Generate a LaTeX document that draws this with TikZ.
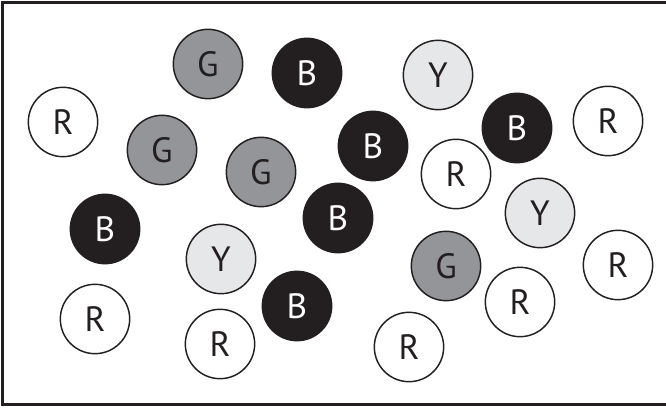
\documentclass[tikz,border=0pt]{standalone}
\usepackage{fontspec}
\setmainfont{PT Sans}
\usepackage{tikz}
\usetikzlibrary{positioning}
\definecolor{inkblack}{HTML}{231F20}
\definecolor{graygreen}{HTML}{939598}
\definecolor{paleyellow}{HTML}{E6E7E8}

\begin{document}
\begin{tikzpicture}[
    ball/.style={circle, draw=inkblack, line width=1.25pt, minimum size=2.08cm, inner sep=0pt, font=\fontsize{30}{32}\selectfont, text=inkblack},
    rball/.style={ball, fill=white},
    gball/.style={ball, fill=graygreen},
    yball/.style={ball, fill=paleyellow},
    bball/.style={ball, fill=inkblack, text=white},
    frame/.style={draw=inkblack, line width=2.6pt},
]
\useasboundingbox (0,0) rectangle (19.98,12.24);

% Frame (open on the right)
\coordinate (f1) at (19.98,12.165);
\coordinate (f2) at (0.075,12.165);
\coordinate (f3) at (0.075,0.105);
\coordinate (f4) at (19.98,0.105);
\draw[frame] (f1) -- (f2) -- (f3) -- (f4);

% Balls
\node[gball] (g1) at (6.24, 10.32) {G};
\node[bball] (b1) at (9.21, 10.05) {B};
\node[yball] (y1) at (13.14, 9.99) {Y};
\node[rball] (r1) at (1.89, 8.58) {R};
\node[gball] (g2) at (4.86, 7.74) {G};
\node[gball] (g3) at (7.83, 7.08) {G};
\node[bball] (b2) at (11.19, 7.86) {B};
\node[bball] (b3) at (15.51, 8.40) {B};
\node[rball] (r2) at (18.24, 8.61) {R};
\node[rball] (r3) at (13.68, 7.02) {R};
\node[bball] (b4) at (3.15, 5.37) {B};
\node[bball] (b5) at (10.14, 5.70) {B};
\node[yball] (y2) at (16.20, 5.85) {Y};
\node[yball] (y3) at (6.63, 4.47) {Y};
\node[gball] (g4) at (13.38, 4.26) {G};
\node[rball] (r4) at (18.54, 4.29) {R};
\node[rball] (r5) at (2.85, 2.67) {R};
\node[bball] (b6) at (8.91, 3.06) {B};
\node[rball] (r6) at (15.60, 3.18) {R};
\node[rball] (r7) at (6.60, 1.92) {R};
\node[rball] (r8) at (12.27, 1.83) {R};

\end{tikzpicture}
\end{document}
